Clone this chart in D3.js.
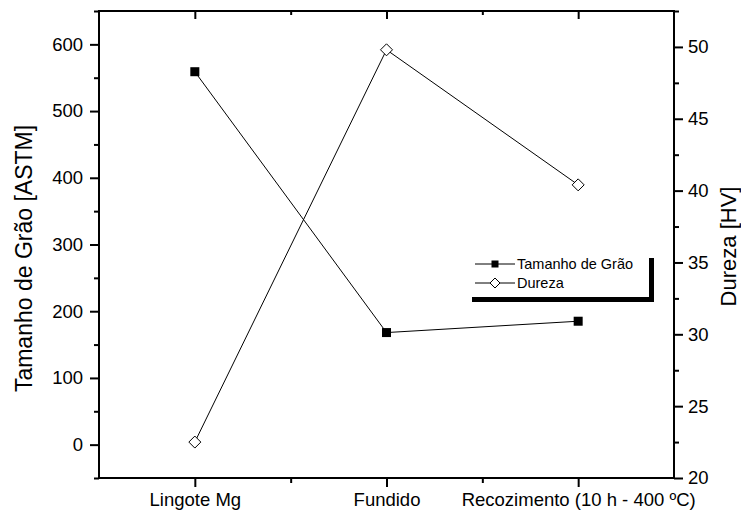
<!DOCTYPE html>
<html>
<head>
<meta charset="utf-8">
<script src="https://cdn.jsdelivr.net/npm/d3@7"></script>
<style>
  html, body { margin: 0; padding: 0; background: #fff; }
  svg { display: block; font-family: "Liberation Sans", Arial, sans-serif; }
</style>
</head>
<body>
<svg id="chart" width="741" height="513"></svg>
<script>
// ---- data ----
const categories = ["Lingote Mg", "Fundido", "Recozimento (10 h - 400 ºC)"];
const tamanhoGrao = [559, 168, 185];
const dureza = [22.5, 49.8, 40.4];
const leftTicks = [0, 100, 200, 300, 400, 500, 600];
const rightTicks = [20, 25, 30, 35, 40, 45, 50];
const seriesNames = ["Tamanho de Grão", "Dureza"];
const leftTitle = "Tamanho de Grão [ASTM]";
const rightTitle = "Dureza [HV]";

// ---- layout ----
const L = 99, R = 674, T = 11, B = 478;
const svg = d3.select("#chart");

const x = d3.scaleLinear().domain([0.5, 3.5]).range([L, R]);
const yL = d3.scaleLinear().domain([-50, 650]).range([B, T]);
const yR = d3.scaleLinear().domain([20, 52.5]).range([B, T]);

const xIdx = categories.map((c, i) => i + 1);
const xMinor = [1.5, 2.5];
const leftMinor = d3.range(-50, 651, 100);
const rightMinor = d3.range(22.5, 52.6, 5);

function styleAxis(g) {
  g.selectAll(".domain").remove();
  g.selectAll(".tick line").attr("stroke", "#000").attr("stroke-width", 2);
  g.selectAll(".tick text").attr("fill", "#000").attr("font-size", "18.5px")
    .attr("font-family", "'Liberation Sans', Arial, sans-serif");
}

// bottom axis
svg.append("g").attr("transform", `translate(0,${B})`)
  .call(d3.axisBottom(x).tickValues(xIdx).tickSize(9).tickPadding(6)
    .tickFormat((d) => categories[d - 1]))
  .call(styleAxis);
svg.append("g").attr("transform", `translate(0,${B})`)
  .call(d3.axisBottom(x).tickValues(xMinor).tickSize(5).tickFormat(""))
  .call(styleAxis);
// top axis (inward ticks)
svg.append("g").attr("transform", `translate(0,${T})`)
  .call(d3.axisBottom(x).tickValues(xIdx).tickSize(8).tickFormat(""))
  .call(styleAxis);
svg.append("g").attr("transform", `translate(0,${T})`)
  .call(d3.axisBottom(x).tickValues(xMinor).tickSize(4).tickFormat(""))
  .call(styleAxis);
// left axis
svg.append("g").attr("transform", `translate(${L},0)`)
  .call(d3.axisLeft(yL).tickValues(leftTicks).tickSize(9).tickPadding(7))
  .call(styleAxis);
svg.append("g").attr("transform", `translate(${L},0)`)
  .call(d3.axisLeft(yL).tickValues(leftMinor).tickSize(5).tickFormat(""))
  .call(styleAxis);
// right axis
svg.append("g").attr("transform", `translate(${R},0)`)
  .call(d3.axisRight(yR).tickValues(rightTicks).tickSize(9).tickPadding(5))
  .call(styleAxis);
svg.append("g").attr("transform", `translate(${R},0)`)
  .call(d3.axisRight(yR).tickValues(rightMinor).tickSize(5).tickFormat(""))
  .call(styleAxis);

// frame
svg.append("rect").attr("x", L).attr("y", T).attr("width", R - L).attr("height", B - T)
  .attr("fill", "none").attr("stroke", "#000").attr("stroke-width", 2);

// axis titles
svg.append("text")
  .attr("transform", `translate(32,${(T + B) / 2 + 14}) rotate(-90)`)
  .attr("text-anchor", "middle").attr("font-size", "23px").attr("fill", "#000")
  .text(leftTitle);
svg.append("text")
  .attr("transform", `translate(736,${(T + B) / 2 + 2}) rotate(-90)`)
  .attr("text-anchor", "middle").attr("font-size", "22px").attr("fill", "#000")
  .text(rightTitle);

// series 1: Tamanho
const line1 = d3.line().x((d, i) => x(i + 1)).y((d) => yL(d));
svg.append("path").datum(tamanhoGrao).attr("d", line1)
  .attr("fill", "none").attr("stroke", "#000").attr("stroke-width", 1);
const sq = 9;
svg.selectAll(".sq").data(tamanhoGrao).enter().append("rect")
  .attr("x", (d, i) => x(i + 1) - sq / 2).attr("y", (d) => yL(d) - sq / 2)
  .attr("width", sq).attr("height", sq).attr("fill", "#000");

// series 2: Dureza
const line2 = d3.line().x((d, i) => x(i + 1)).y((d) => yR(d));
svg.append("path").datum(dureza).attr("d", line2)
  .attr("fill", "none").attr("stroke", "#000").attr("stroke-width", 1);
const dm = 6;
svg.selectAll(".dm").data(dureza).enter().append("path")
  .attr("d", (d, i) => {
    const cx = x(i + 1), cy = yR(d);
    return `M${cx},${cy - dm}L${cx + dm},${cy}L${cx},${cy + dm}L${cx - dm},${cy}Z`;
  })
  .attr("fill", "#fff").attr("stroke", "#000").attr("stroke-width", 1);

// legend
const lg = svg.append("g");
const rows = [264, 283];
seriesNames.forEach((name, i) => {
  const y = rows[i];
  lg.append("line").attr("x1", 475).attr("x2", 515).attr("y1", y).attr("y2", y)
    .attr("stroke", "#000").attr("stroke-width", 1);
  if (i === 0) {
    lg.append("rect").attr("x", 495 - 3.5).attr("y", y - 3.5).attr("width", 7).attr("height", 7).attr("fill", "#000");
  } else {
    const r = 5;
    lg.append("path").attr("d", `M495,${y - r}L${495 + r},${y}L495,${y + r}L${495 - r},${y}Z`)
      .attr("fill", "#fff").attr("stroke", "#000").attr("stroke-width", 1);
  }
  lg.append("text").attr("x", 517).attr("y", y + 5).attr("font-size", "14.5px").attr("fill", "#000").text(name);
});
lg.append("rect").attr("x", 472).attr("y", 297).attr("width", 182).attr("height", 5).attr("fill", "#000");
lg.append("rect").attr("x", 649).attr("y", 258).attr("width", 5).attr("height", 44).attr("fill", "#000");
</script>
</body>
</html>
